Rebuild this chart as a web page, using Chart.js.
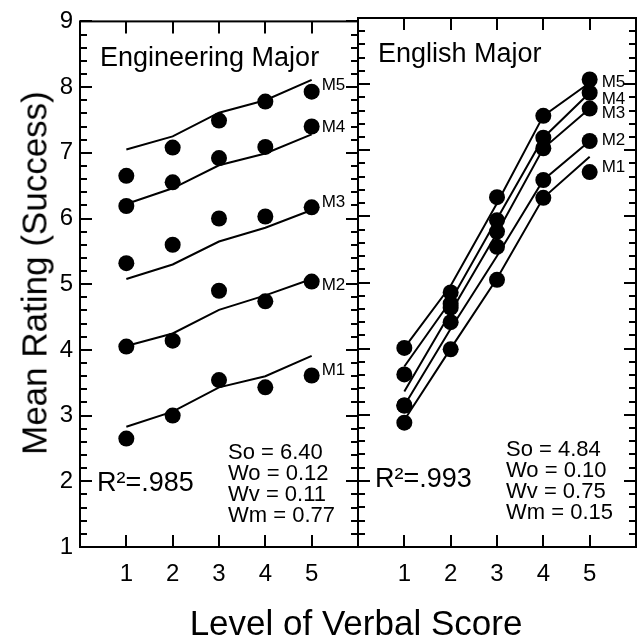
<!DOCTYPE html>
<html>
<head>
<meta charset="utf-8">
<title>Mean Rating by Level of Verbal Score</title>
<script src="https://cdn.jsdelivr.net/npm/chart.js@4"></script>
<style>
  html, body { margin: 0; padding: 0; background: #fff; }
  #wrap { position: relative; width: 642px; height: 638px; overflow: hidden;
          font-family: 'Liberation Sans', Arial, Helvetica, sans-serif; }
  #wrap canvas { position: absolute; top: 0; }
  #left { left: 0; }
  #right { left: 352px; }
  .axis-title { position: absolute; color: #000; font-size: 35px; line-height: 1; white-space: nowrap; }
  #ytitle { left: 34px; top: 273px; transform: translate(-50%, -50%) rotate(-90deg); }
  #xtitle { left: 356px; top: 622px; transform: translate(-50%, -50%); }
</style>
</head>
<body>
<div id="wrap">
  <canvas id="left" width="362" height="638"></canvas>
  <canvas id="right" width="290" height="638"></canvas>
  <div class="axis-title" id="ytitle">Mean Rating (Success)</div>
  <div class="axis-title" id="xtitle">Level of Verbal Score</div>
</div>
<script>
var FONT = "'Liberation Sans', Arial, Helvetica, sans-serif";

// verbal score levels and the five M series (rows below run M1..M5)
var levels = [1, 2, 3, 4, 5];
var seriesNames = ['M1', 'M2', 'M3', 'M4', 'M5'];
var yRange = [1, 9];

// Engineering major: observed means (dots) and model curves (lines)
var engObserved = [
  [2.65, 3.00, 3.54, 3.43, 3.61],
  [4.05, 4.14, 4.90, 4.74, 5.04],
  [5.32, 5.60, 6.00, 6.03, 6.17],
  [6.19, 6.55, 6.92, 7.09, 7.40],
  [6.65, 7.08, 7.49, 7.78, 7.93]
];
var engPredicted = [
  [2.83, 3.06, 3.43, 3.60, 3.91],
  [4.06, 4.25, 4.61, 4.83, 5.08],
  [5.08, 5.30, 5.65, 5.86, 6.13],
  [6.22, 6.46, 6.81, 6.99, 7.28],
  [7.05, 7.25, 7.61, 7.80, 8.11]
];
var engFit = 'R\u00b2=.985';
var engParams = ['So = 6.40', 'Wo = 0.12', 'Wv = 0.11', 'Wm = 0.77'];

// English major
var englishObserved = [
  [2.88, 3.99, 5.04, 6.28, 6.67],
  [3.14, 4.40, 5.54, 6.55, 7.14],
  [3.14, 4.62, 5.77, 7.03, 7.63],
  [3.61, 4.68, 5.94, 7.19, 7.87],
  [4.01, 4.85, 6.29, 7.52, 8.07]
];
var englishPredicted = [
  [2.92, 4.00, 5.06, 6.28, 6.90],
  [3.14, 4.30, 5.40, 6.55, 7.14],
  [3.35, 4.55, 5.75, 7.03, 7.63],
  [3.73, 4.72, 5.96, 7.19, 7.87],
  [4.01, 4.95, 6.20, 7.52, 8.02]
];
var englishFit = 'R\u00b2=.993';
var englishParams = ['So = 4.84', 'Wo = 0.10', 'Wv = 0.75', 'Wm = 0.15'];

function toPoints(row) {
    return levels.map(function(lv, j) { return { x: lv, y: row[j] }; });
}

function buildDatasets(observed, predicted) {
    var sets = [];
    observed.forEach(function(row) {
        sets.push({
            data: toPoints(row),
            showLine: false,
            pointRadius: 8,
            pointBackgroundColor: '#000',
            pointBorderWidth: 0,
            order: 0
        });
    });
    predicted.forEach(function(row) {
        sets.push({
            data: toPoints(row),
            borderColor: '#000',
            borderWidth: 2,
            pointRadius: 0,
            fill: false,
            tension: 0,
            order: 1
        });
    });
    return sets;
}

// frame, inward tick marks and the panel annotations
function panelDecor(panel) {
    return {
        id: 'panelDecor',
        afterDraw: function(chart) {
            var ctx = chart.ctx;
            var a = chart.chartArea;
            var x = chart.scales.x;
            var y = chart.scales.y;

            ctx.save();
            ctx.strokeStyle = '#000';
            ctx.lineWidth = 2;
            ctx.strokeRect(a.left, a.top, a.right - a.left, a.bottom - a.top);

            ctx.beginPath();
            levels.forEach(function(v) {
                var px = Math.round(x.getPixelForValue(v));
                ctx.moveTo(px, a.top); ctx.lineTo(px, a.top + 12);
                ctx.moveTo(px, a.bottom); ctx.lineTo(px, a.bottom - 12);
            });
            for (var k = 0; k <= 40; k++) {
                var py = Math.round(y.getPixelForValue(yRange[0] + k * 0.2));
                var len = k % 5 === 0 ? 12 : 7;
                ctx.moveTo(a.left, py); ctx.lineTo(a.left + len, py);
                ctx.moveTo(a.right, py); ctx.lineTo(a.right - len, py);
            }
            ctx.stroke();

            ctx.fillStyle = '#000';
            ctx.textBaseline = 'middle';
            ctx.textAlign = 'left';
            ctx.font = '27px ' + FONT;
            ctx.fillText(panel.title, a.left + 20, a.top + 37);
            ctx.fillText(panel.fit, a.left + 17, a.top + 462);

            ctx.font = '22px ' + FONT;
            panel.params.forEach(function(t, i) {
                ctx.fillText(t, a.left + 148, a.top + 432 + i * 21);
            });

            // series names sit to the right of the last dot
            ctx.font = '17px ' + FONT;
            var last = levels.length - 1;
            var lx = x.getPixelForValue(levels[last]) + panel.labelGap;
            seriesNames.forEach(function(name, i) {
                var ly = y.getPixelForValue(panel.observed[i][last]) + panel.labelNudge[i];
                ctx.fillText(name, lx, ly);
            });
            ctx.restore();
        }
    };
}

function makePanel(canvasId, panel) {
    var tickFont = { family: FONT, size: 24 };
    return new Chart(document.getElementById(canvasId), {
        type: 'line',
        data: { datasets: buildDatasets(panel.observed, panel.predicted) },
        options: {
            responsive: false,
            animation: false,
            events: [],
            layout: { autoPadding: false, padding: panel.padding },
            plugins: { legend: { display: false }, tooltip: { enabled: false } },
            scales: {
                x: {
                    type: 'linear',
                    min: 0,
                    max: 6,
                    grid: { display: false, drawTicks: false },
                    border: { display: false },
                    ticks: { font: tickFont, color: '#000', padding: 13 },
                    afterBuildTicks: function(s) {
                        s.ticks = levels.map(function(v) { return { value: v }; });
                    },
                    afterFit: function(s) { s.height = 91; }
                },
                y: {
                    type: 'linear',
                    min: yRange[0],
                    max: yRange[1],
                    display: panel.yWidth > 0,
                    grid: { display: false, drawTicks: false },
                    border: { display: false },
                    ticks: { stepSize: 1, font: tickFont, color: '#000', padding: 7 },
                    afterFit: function(s) { s.width = panel.yWidth; }
                }
            }
        },
        plugins: [panelDecor(panel)]
    });
}

makePanel('left', {
    observed: engObserved,
    predicted: engPredicted,
    title: 'Engineering Major',
    fit: engFit,
    params: engParams,
    labelGap: 10,
    labelNudge: [-5, 4, -5, 1, -6],
    yWidth: 80,
    padding: { left: 0, right: 4, top: 18, bottom: 0 }
});

makePanel('right', {
    observed: englishObserved,
    predicted: englishPredicted,
    title: 'English Major',
    fit: englishFit,
    params: englishParams,
    labelGap: 12,
    labelNudge: [-5, -1, 5, 7, 3],
    yWidth: 0,
    padding: { left: 6, right: 6, top: 18, bottom: 0 }
});
</script>
</body>
</html>
